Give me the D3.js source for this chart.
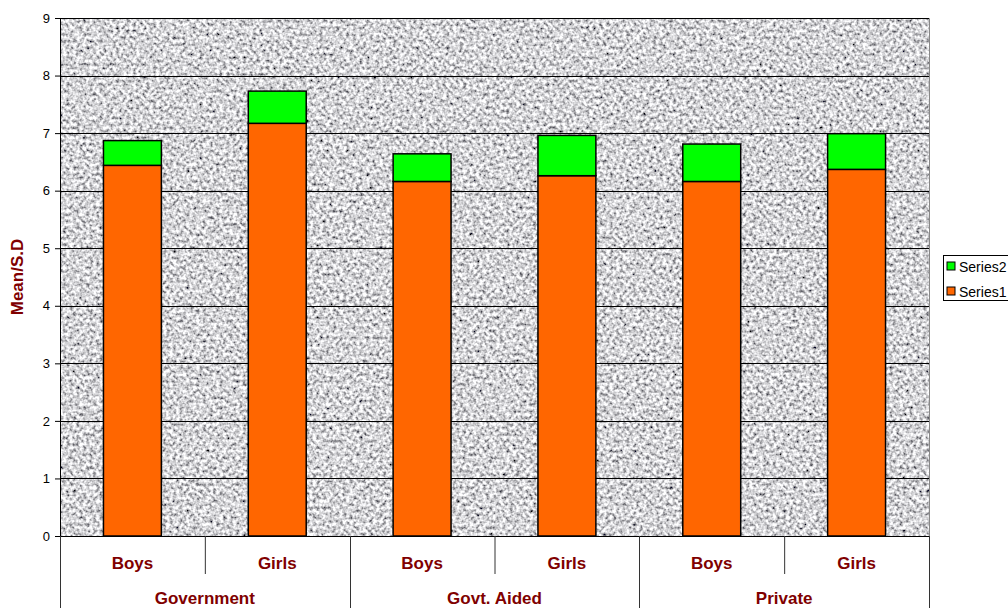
<!DOCTYPE html>
<html>
<head>
<meta charset="utf-8">
<script src="https://cdn.jsdelivr.net/npm/d3@7"></script>
<style>
  body { margin: 0; background: #fff; }
  svg { display: block; font-family: Arial, "Liberation Sans", sans-serif; }
</style>
</head>
<body>
<div id="chart"></div>
<script>
// data
var groups = ["Government", "Govt. Aided", "Private"];
var genders = ["Boys", "Girls"];
var series1 = [6.44, 7.17, 6.16, 6.26, 6.16, 6.37];
var series2 = [0.43, 0.56, 0.48, 0.70, 0.65, 0.62];
var yTicks = [0, 1, 2, 3, 4, 5, 6, 7, 8, 9];

var width = 1008, height = 608;
var plot = {left: 60, right: 929, top: 18, bottom: 536};

var svg = d3.select("#chart").append("svg")
	.attr("width", width)
	.attr("height", height);

// granite-ish texture for the plot area
var defs = svg.append("defs");
var f = defs.append("filter").attr("id", "granite")
	.attr("x", 0).attr("y", 0).attr("width", 1).attr("height", 1)
	.attr("filterUnits", "objectBoundingBox");
f.append("feTurbulence")
	.attr("type", "fractalNoise")
	.attr("baseFrequency", 0.3)
	.attr("numOctaves", 2)
	.attr("seed", 7)
	.attr("result", "noise");
f.append("feColorMatrix")
	.attr("type", "matrix")
	.attr("values", "1.9 0 0 0 -0.29  1.9 0 0 0 -0.29  1.9 0 0 0 -0.27  0 0 0 0 1")
	.attr("result", "grey");
f.append("feGaussianBlur").attr("stdDeviation", 0.4);

var cells = [];
groups.forEach(function(g) {
	genders.forEach(function(s) { cells.push(g + "|" + s); });
});

var x = d3.scaleBand().domain(cells).range([plot.left, plot.right]);
var xg = d3.scaleBand().domain(groups).range([plot.left, plot.right]);
var y = d3.scaleLinear().domain([0, 9]).range([plot.bottom, plot.top]);

svg.append("rect")
	.attr("x", plot.left).attr("y", plot.top)
	.attr("width", plot.right - plot.left).attr("height", plot.bottom - plot.top)
	.attr("fill", "#aaa")
	.attr("filter", "url(#granite)");

// frame top/right
svg.append("path")
	.attr("d", "M" + plot.left + "," + (plot.top + 0.5) + "H" + (plot.right + 0.5) + "V" + plot.bottom)
	.attr("fill", "none").attr("stroke", "#888").attr("stroke-width", 1);

// gridlines
svg.append("g").selectAll("line")
	.data(yTicks.slice(1))
	.enter().append("line")
	.attr("x1", plot.left).attr("x2", plot.right)
	.attr("y1", function(d) { return Math.round(y(d)) + 0.5; })
	.attr("y2", function(d) { return Math.round(y(d)) + 0.5; })
	.attr("stroke", "#000").attr("stroke-width", 1);

// stacked bars
var stackData = cells.map(function(c, i) { return {key: c, s1: series1[i], s2: series2[i]}; });
var stacked = d3.stack().keys(["s1", "s2"])(stackData);
var colors = {s1: "#ff6600", s2: "#00ff00"};
var bw = x.bandwidth() * 0.4;

svg.append("g").selectAll("g")
	.data(stacked)
	.enter().append("g")
	.attr("fill", function(d) { return colors[d.key]; })
	.selectAll("rect")
	.data(function(d) { return d; })
	.enter().append("rect")
	.attr("x", function(d) { return x(d.data.key) + (x.bandwidth() - bw) / 2; })
	.attr("y", function(d) { return y(d[1]); })
	.attr("width", bw)
	.attr("height", function(d) { return y(d[0]) - y(d[1]); })
	.attr("stroke", "#000").attr("stroke-width", 1.5);

// y axis
var yAxis = svg.append("g")
	.attr("transform", "translate(" + plot.left + ",0)")
	.call(d3.axisLeft(y).tickValues(yTicks).tickSize(5).tickPadding(5));
yAxis.select(".domain").attr("stroke", "#000");
yAxis.selectAll("text").attr("font-size", 13).attr("fill", "#000")
	.attr("font-family", "Arial, 'Liberation Sans', sans-serif");

// x axis line
svg.append("line")
	.attr("x1", plot.left).attr("x2", plot.right + 1)
	.attr("y1", plot.bottom + 0.5).attr("y2", plot.bottom + 0.5)
	.attr("stroke", "#000");

// category dividers below axis
var labColor = "#800000";
svg.append("g").selectAll("line")
	.data(groups)
	.enter().append("line")
	.attr("x1", function(g) { return x(g + "|Girls") + 0.5; })
	.attr("x2", function(g) { return x(g + "|Girls") + 0.5; })
	.attr("y1", plot.bottom).attr("y2", 574)
	.attr("stroke", "#333");
var groupEdges = groups.map(function(g) { return xg(g); }).concat([plot.right]);
svg.append("g").selectAll("line")
	.data(groupEdges)
	.enter().append("line")
	.attr("x1", function(d) { return Math.round(d) + 0.5; })
	.attr("x2", function(d) { return Math.round(d) + 0.5; })
	.attr("y1", plot.bottom).attr("y2", height)
	.attr("stroke", "#333");

svg.append("g").selectAll("text")
	.data(cells)
	.enter().append("text")
	.attr("x", function(c) { return x(c) + x.bandwidth() / 2; })
	.attr("y", 569)
	.attr("text-anchor", "middle")
	.attr("font-size", 17).attr("font-weight", "bold").attr("fill", labColor)
	.text(function(c) { return c.split("|")[1]; });

svg.append("g").selectAll("text")
	.data(groups)
	.enter().append("text")
	.attr("x", function(g) { return xg(g) + xg.bandwidth() / 2; })
	.attr("y", 604)
	.attr("text-anchor", "middle")
	.attr("font-size", 17).attr("font-weight", "bold").attr("fill", labColor)
	.text(function(g) { return g; });

// y title
svg.append("text")
	.attr("transform", "translate(23," + ((plot.top + plot.bottom) / 2) + ") rotate(-90)")
	.attr("text-anchor", "middle")
	.attr("font-size", 17).attr("font-weight", "bold").attr("fill", labColor)
	.text("Mean/S.D");

// legend
var legend = svg.append("g").attr("transform", "translate(943,255)");
legend.append("rect")
	.attr("x", 0.5).attr("y", 0.5).attr("width", 80).attr("height", 45)
	.attr("fill", "#fff").attr("stroke", "#000");
var legItems = [{name: "Series2", key: "s2"}, {name: "Series1", key: "s1"}];
var li = legend.selectAll(".item")
	.data(legItems)
	.enter().append("g")
	.attr("transform", function(d, i) { return "translate(4," + (7 + i * 25) + ")"; });
li.append("rect")
	.attr("width", 8).attr("height", 8)
	.attr("fill", function(d) { return colors[d.key]; })
	.attr("stroke", "#000");
li.append("text")
	.attr("x", 12).attr("y", 9.5)
	.attr("font-size", 14).attr("fill", "#000")
	.text(function(d) { return d.name; });
</script>
</body>
</html>
